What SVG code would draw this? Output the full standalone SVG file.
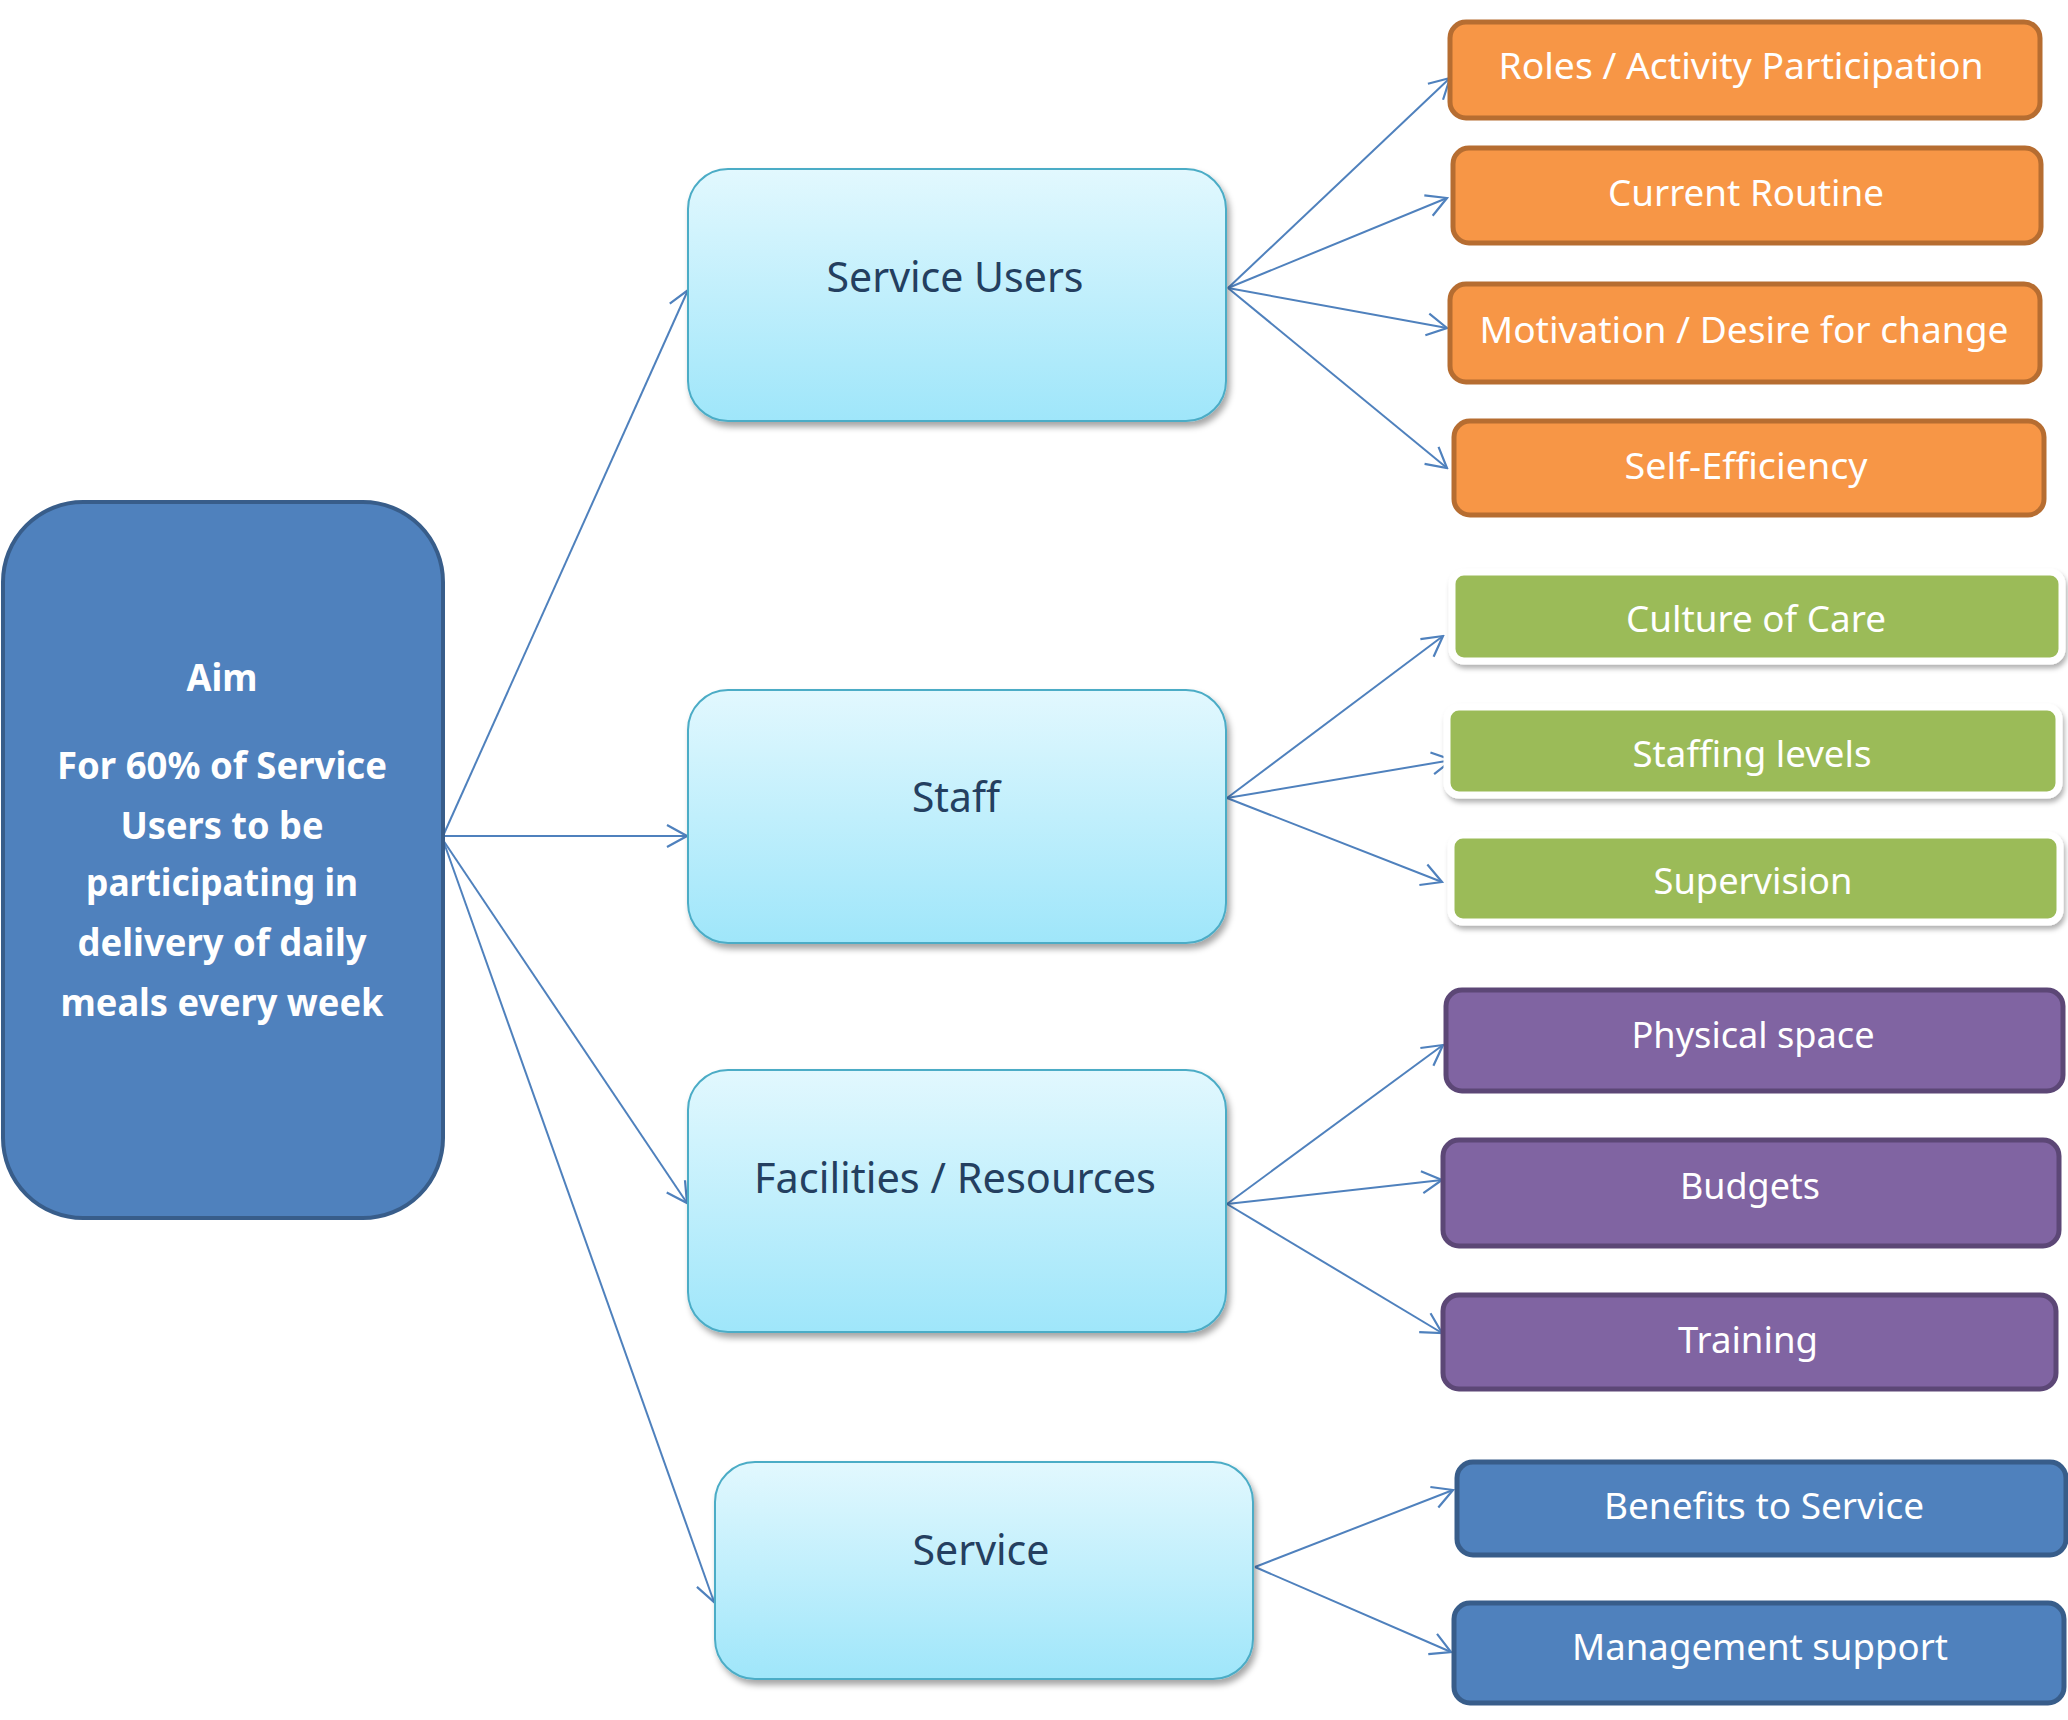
<svg xmlns="http://www.w3.org/2000/svg" width="2068" height="1720" viewBox="0 0 2068 1720">
  <defs>
    <linearGradient id="midFill" x1="0" y1="0" x2="0" y2="1">
      <stop offset="0" stop-color="#E2F8FE"/>
      <stop offset="1" stop-color="#9FE6FA"/>
    </linearGradient>
    <filter id="softShadow" x="-5%" y="-10%" width="115%" height="130%">
      <feDropShadow dx="3" dy="5" stdDeviation="3" flood-color="#000000" flood-opacity="0.35"/>
    </filter>
    <filter id="cardShadow" x="-5%" y="-15%" width="115%" height="140%">
      <feDropShadow dx="2" dy="4" stdDeviation="2.5" flood-color="#000000" flood-opacity="0.3"/>
    </filter>
    <marker id="arrow" markerUnits="userSpaceOnUse" markerWidth="26" markerHeight="26" viewBox="-24 -13 26 26" refX="0" refY="0" orient="auto">
      <path d="M -20 -11 L 0 0 L -20 11" fill="none" stroke="#4F81BD" stroke-width="2.2" stroke-linejoin="miter"/>
    </marker>
    <style>
      .aim { fill: #4F81BD; stroke: #385D8A; stroke-width: 4; }
      .aimText { font-family: "Noto Sans", "Open Sans", "Liberation Sans", sans-serif; font-weight: 700; font-size: 37px; fill: #FFFFFF; text-anchor: middle; }
      .mid { fill: url(#midFill); stroke: #4BACC6; stroke-width: 2; filter: url(#softShadow); }
      .midText { font-family: "Noto Sans", "Open Sans", "Liberation Sans", sans-serif; font-size: 42px; fill: #243F60; text-anchor: middle; }
      .orange { fill: #F79646; stroke: #B66D31; stroke-width: 5; }
      .green { fill: #9BBB59; stroke: #FFFFFF; stroke-width: 7; filter: url(#cardShadow); }
      .purple { fill: #8064A2; stroke: #5C4776; stroke-width: 5; }
      .blue { fill: #4F81BD; stroke: #385D8A; stroke-width: 5; }
      .leafText { font-family: "Noto Sans", "Open Sans", "Liberation Sans", sans-serif; font-size: 37px; fill: #FFFFFF; text-anchor: middle; }
      .link { fill: none; stroke: #4F81BD; stroke-width: 2; marker-end: url(#arrow); }
    </style>
  </defs>

  <rect width="2068" height="1720" fill="#FFFFFF"/>

  <!-- connectors -->
  <g id="connectors">
    <line class="link" x1="443" y1="836" x2="688" y2="290"/>
    <line class="link" x1="443" y1="836" x2="687" y2="836"/>
    <line class="link" x1="443" y1="840" x2="687" y2="1203"/>
    <line class="link" x1="443" y1="840" x2="714" y2="1602"/>

    <line class="link" x1="1228" y1="288" x2="1450" y2="78"/>
    <line class="link" x1="1228" y1="288" x2="1447" y2="198"/>
    <line class="link" x1="1228" y1="288" x2="1447" y2="328"/>
    <line class="link" x1="1228" y1="288" x2="1447" y2="468"/>

    <line class="link" x1="1227" y1="798" x2="1443" y2="636"/>
    <line class="link" x1="1227" y1="798" x2="1452" y2="760"/>
    <line class="link" x1="1227" y1="798" x2="1442" y2="882"/>

    <line class="link" x1="1227" y1="1204" x2="1443" y2="1045"/>
    <line class="link" x1="1227" y1="1204" x2="1442" y2="1180"/>
    <line class="link" x1="1227" y1="1204" x2="1442" y2="1333"/>

    <line class="link" x1="1255" y1="1567" x2="1453" y2="1490"/>
    <line class="link" x1="1255" y1="1567" x2="1451" y2="1652"/>
  </g>

  <!-- aim -->
  <g id="node-aim">
    <rect class="aim" x="3" y="502" width="440" height="716" rx="80" ry="80"/>
    <text class="aimText" x="222" y="691" textLength="71" lengthAdjust="spacingAndGlyphs">Aim</text>
    <text class="aimText" x="222" y="779" textLength="330" lengthAdjust="spacingAndGlyphs">For 60% of Service</text>
    <text class="aimText" x="222" y="839" textLength="203" lengthAdjust="spacingAndGlyphs">Users to be</text>
    <text class="aimText" x="222" y="896" textLength="272" lengthAdjust="spacingAndGlyphs">participating in</text>
    <text class="aimText" x="222" y="956" textLength="289" lengthAdjust="spacingAndGlyphs">delivery of daily</text>
    <text class="aimText" x="222" y="1016" textLength="323" lengthAdjust="spacingAndGlyphs">meals every week</text>
  </g>

  <!-- second level -->
  <g id="node-service-users">
    <rect class="mid" x="688" y="169" width="538" height="252" rx="40" ry="40"/>
    <text class="midText" x="955" y="292" textLength="257" lengthAdjust="spacingAndGlyphs">Service Users</text>
  </g>
  <g id="node-staff">
    <rect class="mid" x="688" y="690" width="538" height="253" rx="40" ry="40"/>
    <text class="midText" x="956" y="812" textLength="88" lengthAdjust="spacingAndGlyphs">Staff</text>
  </g>
  <g id="node-facilities">
    <rect class="mid" x="688" y="1070" width="538" height="262" rx="40" ry="40"/>
    <text class="midText" x="955" y="1193" textLength="402" lengthAdjust="spacingAndGlyphs">Facilities / Resources</text>
  </g>
  <g id="node-service">
    <rect class="mid" x="715" y="1462" width="538" height="217" rx="40" ry="40"/>
    <text class="midText" x="981" y="1565" textLength="137" lengthAdjust="spacingAndGlyphs">Service</text>
  </g>

  <!-- service user factors -->
  <g id="node-roles">
    <rect class="orange" x="1450" y="22" width="590" height="96" rx="16" ry="16"/>
    <text class="leafText" x="1741" y="79" textLength="485" lengthAdjust="spacingAndGlyphs">Roles / Activity Participation</text>
  </g>
  <g id="node-routine">
    <rect class="orange" x="1453" y="148" width="588" height="95" rx="16" ry="16"/>
    <text class="leafText" x="1746" y="206" textLength="276" lengthAdjust="spacingAndGlyphs">Current Routine</text>
  </g>
  <g id="node-motivation">
    <rect class="orange" x="1450" y="284" width="590" height="98" rx="16" ry="16"/>
    <text class="leafText" x="1744" y="343" textLength="529" lengthAdjust="spacingAndGlyphs">Motivation / Desire for change</text>
  </g>
  <g id="node-self-efficiency">
    <rect class="orange" x="1454" y="421" width="590" height="94" rx="16" ry="16"/>
    <text class="leafText" x="1746" y="479" textLength="243" lengthAdjust="spacingAndGlyphs">Self-Efficiency</text>
  </g>

  <!-- staff factors -->
  <g id="node-culture">
    <rect class="green" x="1452" y="572" width="610" height="89" rx="12" ry="12"/>
    <text class="leafText" x="1756" y="632" textLength="260" lengthAdjust="spacingAndGlyphs">Culture of Care</text>
  </g>
  <g id="node-staffing">
    <rect class="green" x="1447" y="707" width="612" height="88" rx="12" ry="12"/>
    <text class="leafText" x="1752" y="767" textLength="239" lengthAdjust="spacingAndGlyphs">Staffing levels</text>
  </g>
  <g id="node-supervision">
    <rect class="green" x="1451" y="835" width="609" height="87" rx="12" ry="12"/>
    <text class="leafText" x="1753" y="894" textLength="199" lengthAdjust="spacingAndGlyphs">Supervision</text>
  </g>

  <!-- facilities factors -->
  <g id="node-physical">
    <rect class="purple" x="1446" y="990" width="617" height="101" rx="16" ry="16"/>
    <text class="leafText" x="1753" y="1048" textLength="243" lengthAdjust="spacingAndGlyphs">Physical space</text>
  </g>
  <g id="node-budgets">
    <rect class="purple" x="1443" y="1140" width="616" height="106" rx="16" ry="16"/>
    <text class="leafText" x="1750" y="1199" textLength="140" lengthAdjust="spacingAndGlyphs">Budgets</text>
  </g>
  <g id="node-training">
    <rect class="purple" x="1443" y="1295" width="613" height="94" rx="16" ry="16"/>
    <text class="leafText" x="1748" y="1353" textLength="140" lengthAdjust="spacingAndGlyphs">Training</text>
  </g>

  <!-- service factors -->
  <g id="node-benefits">
    <rect class="blue" x="1457" y="1462" width="609" height="93" rx="16" ry="16"/>
    <text class="leafText" x="1764" y="1519" textLength="320" lengthAdjust="spacingAndGlyphs">Benefits to Service</text>
  </g>
  <g id="node-management">
    <rect class="blue" x="1454" y="1603" width="610" height="100" rx="16" ry="16"/>
    <text class="leafText" x="1760" y="1660" textLength="376" lengthAdjust="spacingAndGlyphs">Management support</text>
  </g>
</svg>
